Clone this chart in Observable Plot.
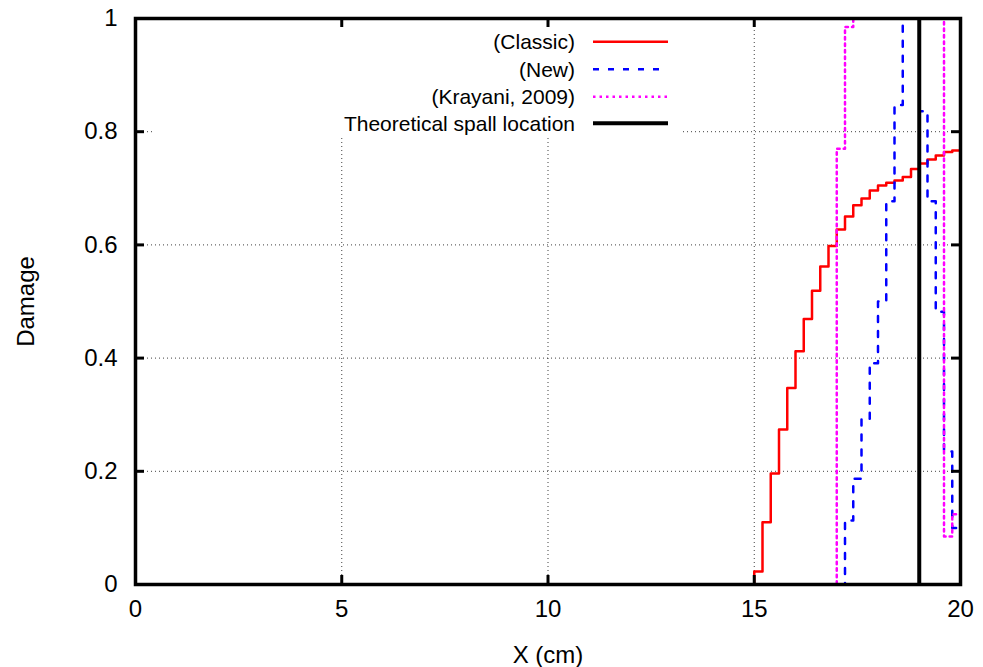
<!DOCTYPE html>
<html>
<head>
<meta charset="utf-8">
<script src="https://cdn.jsdelivr.net/npm/d3@7"></script>
<script src="https://cdn.jsdelivr.net/npm/@observablehq/plot@0.6"></script>
<style>
  html, body { margin: 0; padding: 0; background: #fff; }
  #chart { width: 983px; height: 667px; }
  svg { font-family: "Liberation Sans", Arial, Helvetica, sans-serif; }
</style>
</head>
<body>
<div id="chart"></div>
<script>
// Cell edges (cm) — step histogram, value holds from each edge to the next
const xEdges = [0, 15.0, 15.2, 15.4, 15.6, 15.8, 16.0, 16.2, 16.4, 16.6, 16.8, 17.0, 17.2, 17.4, 17.6, 17.8, 18.0, 18.2, 18.4, 18.6, 18.8, 19.0, 19.2, 19.4, 19.6, 19.8, 20.0];

const classic = [0, 0.023, 0.110, 0.196, 0.274, 0.347, 0.412, 0.469, 0.519, 0.562, 0.598, 0.627, 0.650, 0.670, 0.682, 0.696, 0.705, 0.710, 0.714, 0.720, 0.734, 0.744, 0.751, 0.758, 0.764, 0.767, 0.767];

const newModel = [0, 0, 0, 0, 0, 0, 0, 0, 0, 0, 0, 0, 0.113, 0.187, 0.293, 0.391, 0.500, 0.677, 0.847, 1.0, 1.0, 0.836, 0.677, 0.482, 0.235, 0.100, 0.100];

const krayani = [0, 0, 0, 0, 0, 0, 0, 0, 0, 0, 0, 0.770, 0.985, 1.0, 1.0, 1.0, 1.0, 1.0, 1.0, 1.0, 1.0, 1.0, 1.0, 1.0, 0.085, 0.124, 0.124];

const spallLocation = [19.0];

const xTicks = [0, 5, 10, 15, 20];
const yTicks = [0, 0.2, 0.4, 0.6, 0.8, 1];
const xGrid = [5, 10, 15];
const yGrid = [0.2, 0.4, 0.6, 0.8];

const seriesNames = ["(Classic)", "(New)", "(Krayani, 2009)", "Theoretical spall location"];
const seriesColors = ["#ff0000", "#0000ff", "#ff00ff", "#000000"];
const seriesDash = [null, "6,9", "2.5,4", null];
const seriesWidth = [2.5, 2.5, 2.5, 4];

const toRows = (vals) => xEdges.map((x, i) => ({x, y: vals[i]}));

const W = 983, H = 667;
const mL = 135, mR = 23, mT = 18, mB = 83;
const innerW = W - mL - mR, innerH = H - mT - mB;
const tickLen = 9;
const tickFont = 24;

const plot = Plot.plot({
  width: W,
  height: H,
  marginLeft: mL,
  marginRight: mR,
  marginTop: mT,
  marginBottom: mB,
  style: {fontFamily: '"Liberation Sans", Arial, Helvetica, sans-serif', fontSize: "21px", background: "#fff", color: "#000"},
  x: {domain: [0, 20]},
  y: {domain: [0, 1]},
  marks: [
    // grid
    Plot.ruleX(xGrid, {x: d => d, stroke: "#000", strokeWidth: 1, strokeDasharray: "1,3", strokeOpacity: 0.75}),
    Plot.ruleY(yGrid, {y: d => d, stroke: "#000", strokeWidth: 1, strokeDasharray: "1,3", strokeOpacity: 0.75}),
    // curves
    Plot.line(toRows(classic), {x: "x", y: "y", curve: "step-after", stroke: seriesColors[0], strokeWidth: seriesWidth[0]}),
    Plot.line(toRows(newModel), {x: "x", y: "y", curve: "step-after", stroke: seriesColors[1], strokeWidth: seriesWidth[1], strokeDasharray: seriesDash[1]}),
    Plot.line(toRows(krayani), {x: "x", y: "y", curve: "step-after", stroke: seriesColors[2], strokeWidth: seriesWidth[2], strokeDasharray: seriesDash[2]}),
    Plot.ruleX(spallLocation, {x: d => d, stroke: seriesColors[3], strokeWidth: seriesWidth[3]}),
    // inward ticks (mirrored on all sides)
    Plot.tickX(xGrid, {x: d => d, insetTop: innerH - tickLen, stroke: "#000", strokeWidth: 3}),
    Plot.tickX(xGrid, {x: d => d, insetBottom: innerH - tickLen, stroke: "#000", strokeWidth: 3}),
    Plot.tickY(yGrid, {y: d => d, insetRight: innerW - tickLen, stroke: "#000", strokeWidth: 3}),
    Plot.tickY(yGrid, {y: d => d, insetLeft: innerW - tickLen, stroke: "#000", strokeWidth: 3}),
    // axes
    Plot.axisX(xTicks, {tickSize: 0, tickPadding: 15, fontSize: tickFont, label: null, tickFormat: d => String(d)}),
    Plot.axisY(yTicks, {tickSize: 0, tickPadding: 18, fontSize: tickFont, label: null, tickFormat: d => String(d)}),
    Plot.text(["X (cm)"], {frameAnchor: "bottom", dy: 71, fontSize: tickFont, textAnchor: "middle", lineAnchor: "middle", fill: "#000"}),
    Plot.text(["Damage"], {frameAnchor: "left", dx: -109, rotate: -90, fontSize: tickFont, textAnchor: "middle", lineAnchor: "middle", fill: "#000"}),
    Plot.frame({stroke: "#000", strokeWidth: 3.5})
  ]
});

document.getElementById("chart").appendChild(plot);

// Opaque key box (gnuplot style), top-left inside the plot
const svg = d3.select(plot);
const key = svg.append("g").attr("class", "key");
key.append("rect")
  .attr("x", 152).attr("y", 28).attr("width", 531).attr("height", 109)
  .attr("fill", "#fff");
const rowY = [41.7, 69.3, 96.7, 123.3];
seriesNames.forEach((name, i) => {
  key.append("text")
    .attr("x", 575).attr("y", rowY[i]).attr("dy", "0.36em")
    .attr("text-anchor", "end")
    .attr("font-size", 21)
    .attr("fill", "#000")
    .text(name);
  const ln = key.append("line")
    .attr("x1", 593).attr("x2", 668)
    .attr("y1", rowY[i]).attr("y2", rowY[i])
    .attr("stroke", seriesColors[i])
    .attr("stroke-width", seriesWidth[i]);
  if (seriesDash[i]) ln.attr("stroke-dasharray", seriesDash[i]);
});
</script>
</body>
</html>
